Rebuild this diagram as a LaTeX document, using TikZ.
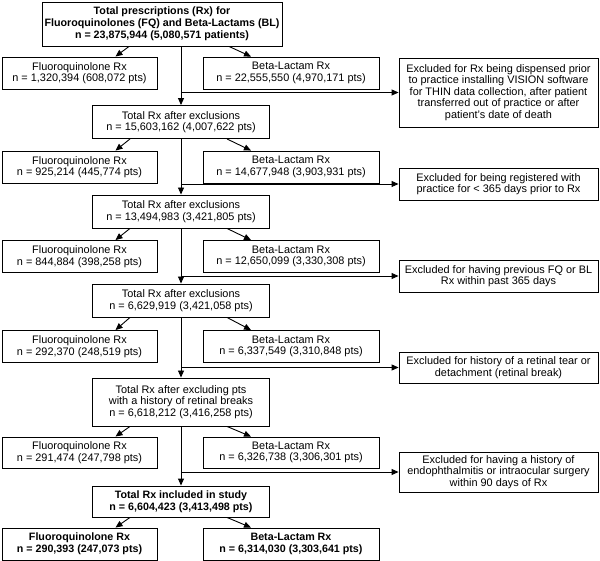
\documentclass[tikz,border=0pt]{standalone}
\usepackage{fontspec}
\setmainfont{Liberation Sans}
\usetikzlibrary{arrows.meta,positioning}

\begin{document}
\begin{tikzpicture}[x=1pt,y=-1pt,>={Triangle[length=7pt,width=6pt]}, every node/.style={font=\fontsize{10.9}{11.6}\selectfont}]
    % Styles
    \tikzset{box/.style    ={draw,line width=0.9pt,align=center,inner sep=0pt}}
    \tikzset{totbox/.style ={box,minimum width=177pt,minimum height=33pt}}
    \tikzset{fqbox/.style  ={box,minimum width=155pt,minimum height=32pt}}
    \tikzset{blbox/.style  ={box,minimum width=176pt,minimum height=32pt}}
    \tikzset{exbox/.style  ={box,minimum width=199pt,minimum height=32pt}}
    \tikzset{strong/.style ={font=\fontsize{10.7}{11.8}\selectfont\bfseries}}
    \tikzset{flow/.style   ={->,line width=0.9pt}}

    \useasboundingbox (0,0) rectangle (600,561);

    % Start
    \node[box,strong,minimum width=240pt,minimum height=44pt] (main) at (162,24)
      {Total prescriptions (Rx) for\\Fluoroquinolones (FQ) and Beta-Lactams (BL)\\n = 23,875,944 (5,080,571 patients)};
    \node[fqbox] (fq1) at (79.5,73) {Fluoroquinolone Rx\\n = 1,320,394 (608,072 pts)};
    \node[blbox] (bl1) at (291,73)  {Beta-Lactam Rx\\n = 22,555,550 (4,970,171 pts)};
    \node[exbox,minimum height=69pt] (ex1) at (498.5,92.5)
      {Excluded for Rx being dispensed prior\\to practice installing VISION software\\for THIN data collection, after patient\\transferred out of practice or after\\patient's date of death};

    % Stage 1
    \node[totbox] (tot1) at (181,122) {Total Rx after exclusions\\n = 15,603,162 (4,007,622 pts)};
    \node[fqbox] (fq2) at (79.5,167) {Fluoroquinolone Rx\\n = 925,214 (445,774 pts)};
    \node[blbox] (bl2) at (291,167)  {Beta-Lactam Rx\\n = 14,677,948 (3,903,931 pts)};
    \node[exbox] (ex2) at (498.5,184) {Excluded for being registered with\\practice for < 365 days prior to Rx};

    % Stage 2
    \node[totbox] (tot2) at (181,211.5) {Total Rx after exclusions\\n = 13,494,983 (3,421,805 pts)};
    \node[fqbox] (fq3) at (79.5,256.5) {Fluoroquinolone Rx\\n = 844,884 (398,258 pts)};
    \node[blbox] (bl3) at (291,256.5)  {Beta-Lactam Rx\\n = 12,650,099 (3,330,308 pts)};
    \node[exbox] (ex3) at (498.5,276) {Excluded for having previous FQ or BL\\Rx within past 365 days};

    % Stage 3
    \node[totbox] (tot3) at (181,300.5) {Total Rx after exclusions\\n = 6,629,919 (3,421,058 pts)};
    \node[fqbox] (fq4) at (79.5,346.5) {Fluoroquinolone Rx\\n = 292,370 (248,519 pts)};
    \node[blbox] (bl4) at (291,346.5)  {Beta-Lactam Rx\\n = 6,337,549 (3,310,848 pts)};
    \node[exbox,minimum height=31pt] (ex4) at (498.5,367.5) {Excluded for history of a retinal tear or\\detachment (retinal break)};

    % Stage 4
    \node[totbox,minimum height=48pt] (tot4) at (181,402)
      {Total Rx after excluding pts\\with a history of retinal breaks\\n = 6,618,212 (3,416,258 pts)};
    \node[fqbox,minimum height=31pt] (fq5) at (79.5,452.5) {Fluoroquinolone Rx\\n = 291,474 (247,798 pts)};
    \node[blbox,minimum height=31pt] (bl5) at (291,452.5)  {Beta-Lactam Rx\\n = 6,326,738 (3,306,301 pts)};
    \node[exbox,minimum height=40pt] (ex5) at (498.5,472)
      {Excluded for having a history of\\endophthalmitis or intraocular surgery\\within 90 days of Rx};

    % Included
    \node[totbox,strong,minimum height=31pt] (tot5) at (181,501.5) {Total Rx included in study\\n = 6,604,423 (3,413,498 pts)};
    \node[fqbox,strong] (fq6) at (79.5,544) {Fluoroquinolone Rx\\n = 290,393 (247,073 pts)};
    \node[blbox,strong] (bl6) at (291,544)  {Beta-Lactam Rx\\n = 6,314,030 (3,303,641 pts)};

    % Main line and exclusions
    \draw[flow] ([xshift=19pt]main.south) -- (tot1.north);
    \draw[flow] (tot1.south) -- (tot2.north);
    \draw[flow] (tot2.south) -- (tot3.north);
    \draw[flow] (tot3.south) -- (tot4.north);
    \draw[flow] (tot4.south) -- (tot5.north);
    \draw[flow] (ex1.west -| tot1.north) -- (ex1.west);
    \draw[flow] (ex2.west -| tot2.north) -- (ex2.west);
    \draw[flow] (ex3.west -| tot3.north) -- (ex3.west);
    \draw[flow] (ex4.west -| tot4.north) -- (ex4.west);
    \draw[flow] (ex5.west -| tot5.north) -- (ex5.west);

    % Splits by drug class
    \draw[flow] ([xshift=-33pt]main.south) -- ([xshift=36pt]fq1.north);
    \draw[flow] ([xshift=67pt]main.south)  -- ([xshift=-40pt]bl1.north);
    \draw[flow] ([xshift=-51pt]tot1.south) -- ([xshift=36pt]fq2.north);
    \draw[flow] ([xshift=46pt]tot1.south)  -- ([xshift=-40pt]bl2.north);
    \draw[flow] ([xshift=-51pt]tot2.south) -- ([xshift=36pt]fq3.north);
    \draw[flow] ([xshift=46pt]tot2.south)  -- ([xshift=-40pt]bl3.north);
    \draw[flow] ([xshift=-51pt]tot3.south) -- ([xshift=36pt]fq4.north);
    \draw[flow] ([xshift=46pt]tot3.south)  -- ([xshift=-40pt]bl4.north);
    \draw[flow] ([xshift=-51pt]tot4.south) -- ([xshift=36pt]fq5.north);
    \draw[flow] ([xshift=46pt]tot4.south)  -- ([xshift=-40pt]bl5.north);
    \draw[flow] ([xshift=-51pt]tot5.south) -- ([xshift=36pt]fq6.north);
    \draw[flow] ([xshift=46pt]tot5.south)  -- ([xshift=-40pt]bl6.north);
\end{tikzpicture}
\end{document}
